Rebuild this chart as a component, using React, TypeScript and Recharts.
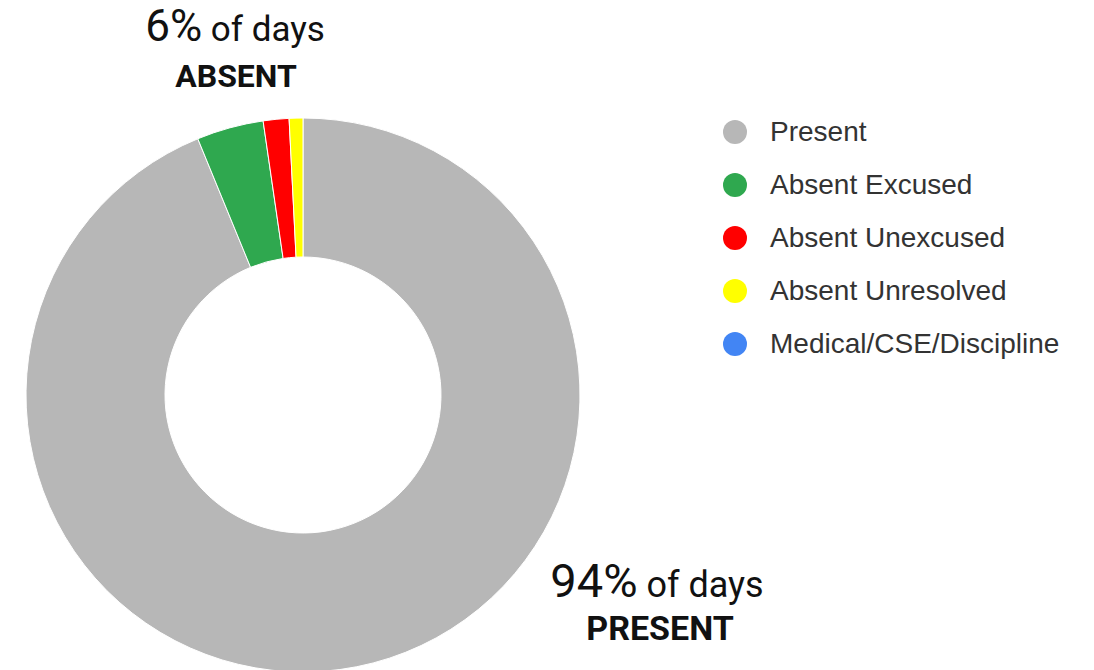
import { Cell, Legend, Pie, PieChart } from "recharts";

const categories = [
  "Present",
  "Absent Excused",
  "Absent Unexcused",
  "Absent Unresolved",
  "Medical/CSE/Discipline",
];
const values = [93.8, 3.9, 1.5, 0.8, 0];
const colors = ["#b7b7b7", "#2fa84f", "#ff0000", "#ffff00", "#4285f4"];

const absentPct = "6%";
const presentPct = "94%";

const data = categories.map((name, i) => ({ name, value: values[i] }));

const W = 1094;
const H = 670;

function LegendList() {
  return (
    <div>
      {categories.map((c, i) => (
        <div
          key={c}
          style={{
            display: "flex",
            alignItems: "center",
            height: 53,
            fontFamily: "'Liberation Sans', Arial, sans-serif",
            fontSize: 28,
            color: "#333",
          }}
        >
          <span
            style={{
              width: 24,
              height: 24,
              borderRadius: 12,
              background: colors[i],
              marginRight: 23,
              display: "inline-block",
            }}
          />
          {c}
        </div>
      ))}
    </div>
  );
}

export default function App() {
  return (
    <div style={{ position: "absolute", left: 0, top: 0, width: W, height: H, background: "#fff" }}>
      <PieChart width={W} height={H} margin={{ top: 0, right: 0, bottom: 0, left: 0 }}>
        <Pie
          data={data}
          dataKey="value"
          nameKey="name"
          cx={303}
          cy={395}
          innerRadius={138}
          outerRadius={277}
          startAngle={90}
          endAngle={-270}
          stroke="#fff"
          strokeWidth={1}
          isAnimationActive={false}
        >
          {data.map((d, i) => (
            <Cell key={d.name} fill={colors[i]} />
          ))}
        </Pie>
        <Legend
          layout="vertical"
          verticalAlign="top"
          align="right"
          content={() => <LegendList />}
          wrapperStyle={{ left: 723, top: 105, width: 370 }}
        />
      </PieChart>
      <svg
        width={W}
        height={H}
        style={{ position: "absolute", left: 0, top: 0, pointerEvents: "none" }}
        fontFamily="Roboto, sans-serif"
        fill="#111"
      >
        <text x={235} y={41} textAnchor="middle">
          <tspan fontSize={44}>{absentPct}</tspan>
          <tspan fontSize={35}> of days</tspan>
        </text>
        <text x={236} y={87} textAnchor="middle" fontSize={32} fontWeight="bold">
          ABSENT
        </text>
        <text x={657} y={597} textAnchor="middle">
          <tspan fontSize={47}>{presentPct}</tspan>
          <tspan fontSize={36}> of days</tspan>
        </text>
        <text x={660} y={640} textAnchor="middle" fontSize={34} fontWeight="bold">
          PRESENT
        </text>
      </svg>
    </div>
  );
}
